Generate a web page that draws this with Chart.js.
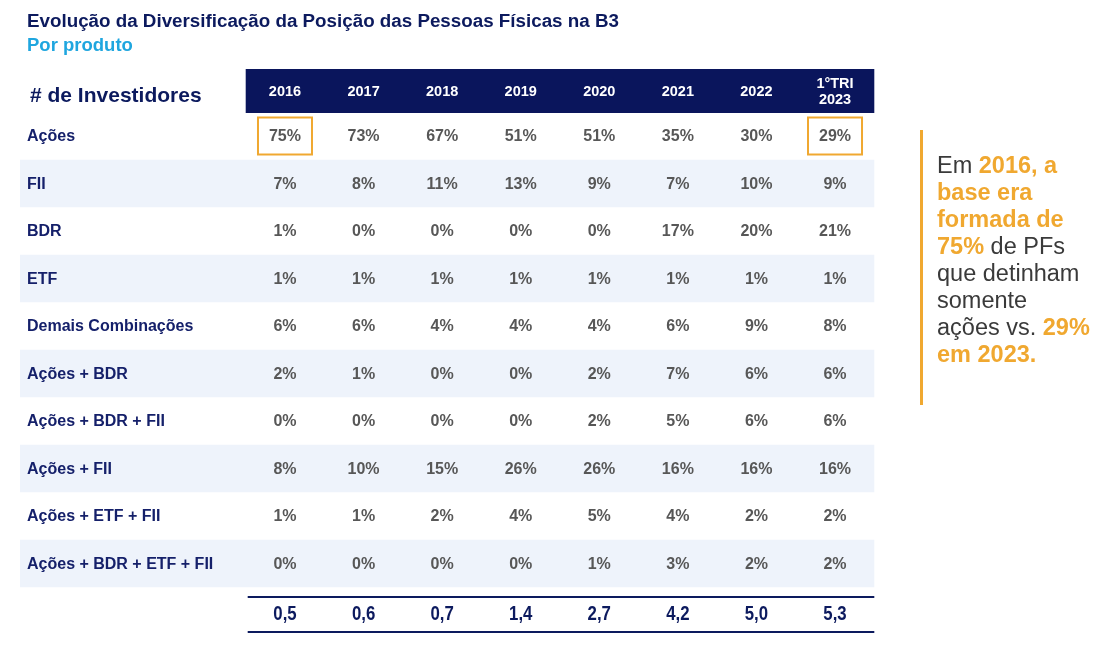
<!DOCTYPE html>
<html lang="pt-BR">
<head>
<meta charset="utf-8">
<title>Evolução da Diversificação da Posição das Pessoas Físicas na B3</title>
<script src="https://cdn.jsdelivr.net/npm/chart.js@4/dist/chart.umd.min.js"></script>
<style>
    body { margin: 0; background: #fff; font-family: 'Liberation Sans', Arial, sans-serif; }
    #wrap { position: relative; width: 1100px; height: 645px; overflow: hidden; }
    #wrap canvas { position: absolute; left: 0; top: 0; }
    .title { position: absolute; left: 27px; top: 11px; font-size: 18.8px; line-height: 19px; font-weight: bold; color: #0c1a5e; white-space: nowrap; }
    .subtitle { position: absolute; left: 27px; top: 35px; font-size: 18.5px; line-height: 19px; font-weight: bold; color: #1fa6df; white-space: nowrap; }
    .side-bar { position: absolute; left: 920px; top: 130px; width: 3px; height: 275px; background: #f0a830; }
    .side-note { position: absolute; left: 937px; top: 152px; font-size: 23.5px; line-height: 27px; color: #3a3a3a; white-space: nowrap; }
    .side-note b { color: #f0a830; }
</style>
</head>
<body>
<div id="wrap">
    <canvas id="posicaoTable"></canvas>
    <div class="title">Evolução da Diversificação da Posição das Pessoas Físicas na B3</div>
    <div class="subtitle">Por produto</div>
    <div class="side-bar"></div>
    <div class="side-note">Em <b>2016, a</b><br><b>base era</b><br><b>formada de</b><br><b>75%</b> de PFs<br>que detinham<br>somente<br>ações vs. <b>29%</b><br><b>em 2023.</b></div>
</div>
<script>
// Colunas (períodos) e linhas (produtos)
const years = ['2016', '2017', '2018', '2019', '2020', '2021', '2022', '1°TRI 2023'];
const products = ['Ações', 'FII', 'BDR', 'ETF', 'Demais Combinações', 'Ações + BDR',
    'Ações + BDR + FII', 'Ações + FII', 'Ações + ETF + FII', 'Ações + BDR + ETF + FII'];

// % de investidores por produto
const acoes = [75, 73, 67, 51, 51, 35, 30, 29];
const fii = [7, 8, 11, 13, 9, 7, 10, 9];
const bdr = [1, 0, 0, 0, 0, 17, 20, 21];
const etf = [1, 1, 1, 1, 1, 1, 1, 1];
const demais = [6, 6, 4, 4, 4, 6, 9, 8];
const acoesBdr = [2, 1, 0, 0, 2, 7, 6, 6];
const acoesBdrFii = [0, 0, 0, 0, 2, 5, 6, 6];
const acoesFii = [8, 10, 15, 26, 26, 16, 16, 16];
const acoesEtfFii = [1, 1, 2, 4, 5, 4, 2, 2];
const acoesBdrEtfFii = [0, 0, 0, 0, 1, 3, 2, 2];

// total de investidores (milhões)
const totals = [0.5, 0.6, 0.7, 1.4, 2.7, 4.2, 5.0, 5.3];

// células destacadas em laranja
const highlights = [['Ações', '2016'], ['Ações', '1°TRI 2023']];

const rowValues = [acoes, fii, bdr, etf, demais, acoesBdr, acoesBdrFii, acoesFii, acoesEtfFii, acoesBdrEtfFii];
const yLabels = ['header'].concat(products, ['total']);

const NAVY = '#0c1a5e';
const BAND = '#0a155c';
const ROW_BG = '#eef3fb';
const ORANGE = '#f0a830';

function fmtTotal(v) {
    return v.toFixed(1).replace('.', ',');
}

// Datasets: one per row, each cell is an invisible point placed by the category scales
const datasets = products.map((p, r) => ({
    label: p,
    data: rowValues[r].map((v, i) => ({ x: years[i], y: p, v: v + '%' })),
    pointRadius: 0,
    pointHoverRadius: 0
}));
datasets.push({
    label: 'total',
    data: totals.map((v, i) => ({ x: years[i], y: 'total', v: fmtTotal(v) })),
    pointRadius: 0,
    pointHoverRadius: 0
});
datasets.push({
    label: 'header',
    data: years.map(y => ({ x: y, y: 'header', v: y })),
    pointRadius: 0,
    pointHoverRadius: 0
});

const tablePlugin = {
    id: 'tablePlugin',
    beforeDatasetsDraw(chart) {
        const ctx = chart.ctx;
        const xs = chart.scales.x;
        const ys = chart.scales.y;
        const step = ys.getPixelForValue(2) - ys.getPixelForValue(1);
        ctx.save();
        // alternating light rows
        products.forEach((p, r) => {
            if (r % 2 === 1) {
                const yc = ys.getPixelForValue(r + 1);
                ctx.fillStyle = ROW_BG;
                ctx.fillRect(20, yc - step / 2, xs.right - 20, step);
            }
        });
        // header band
        const yh = ys.getPixelForValue(0);
        ctx.fillStyle = BAND;
        ctx.fillRect(xs.left, yh - 19.5, xs.right - xs.left, 44);
        ctx.restore();
    },
    afterDatasetsDraw(chart) {
        const ctx = chart.ctx;
        const xs = chart.scales.x;
        const ys = chart.scales.y;
        ctx.save();
        ctx.textBaseline = 'middle';

        // "# de Investidores"
        const yh = ys.getPixelForValue(0);
        ctx.fillStyle = NAVY;
        ctx.font = "bold 21px 'Liberation Sans', Arial, sans-serif";
        ctx.textAlign = 'left';
        ctx.fillText('# de Investidores', 30, yh + 8);

        // row labels
        ctx.font = "bold 16px 'Liberation Sans', Arial, sans-serif";
        ctx.fillStyle = '#15206a';
        products.forEach((p, r) => {
            ctx.fillText(p, 27, ys.getPixelForValue(r + 1) + 1);
        });

        ctx.textAlign = 'center';
        chart.data.datasets.forEach((ds, di) => {
            const meta = chart.getDatasetMeta(di);
            meta.data.forEach((pt, i) => {
                const txt = ds.data[i].v;
                if (ds.label === 'header') {
                    ctx.fillStyle = '#ffffff';
                    ctx.font = "bold 14.5px 'Liberation Sans', Arial, sans-serif";
                    const parts = txt.split(' ');
                    if (parts.length > 1) {
                        ctx.fillText(parts[0], pt.x, pt.y - 5);
                        ctx.fillText(parts[1], pt.x, pt.y + 11);
                    } else {
                        ctx.fillText(txt, pt.x, pt.y + 3);
                    }
                } else if (ds.label === 'total') {
                    // condensed look: squeeze the bold face horizontally
                    ctx.save();
                    ctx.fillStyle = NAVY;
                    ctx.font = "bold 20px 'Liberation Sans', Arial, sans-serif";
                    ctx.translate(pt.x, pt.y + 3);
                    ctx.scale(0.84, 1);
                    ctx.fillText(txt, 0, 0);
                    ctx.restore();
                } else {
                    ctx.fillStyle = '#575757';
                    ctx.font = "bold 16px 'Liberation Sans', Arial, sans-serif";
                    ctx.fillText(txt, pt.x, pt.y + 1);
                }
            });
        });

        // total rules
        const yt = ys.getPixelForValue(yLabels.length - 1);
        ctx.strokeStyle = NAVY;
        ctx.lineWidth = 2;
        [yt - 14, yt + 21].forEach(y => {
            ctx.beginPath();
            ctx.moveTo(xs.left + 2, y);
            ctx.lineTo(xs.right, y);
            ctx.stroke();
        });

        // highlight boxes
        ctx.strokeStyle = ORANGE;
        ctx.lineWidth = 2;
        highlights.forEach(([row, col]) => {
            const x = xs.getPixelForValue(years.indexOf(col));
            const y = ys.getPixelForValue(yLabels.indexOf(row));
            ctx.strokeRect(x - 27, y - 18.5, 54, 37);
        });
        ctx.restore();
    }
};

function renderTable() {
    const ctx = document.getElementById('posicaoTable').getContext('2d');
    new Chart(ctx, {
        type: 'scatter',
        data: { datasets: datasets },
        options: {
            responsive: false,
            animation: false,
            events: [],
            layout: {
                padding: { left: 245.7, right: 225.7, top: 64.75, bottom: 10.25 }
            },
            scales: {
                x: { type: 'category', labels: years, offset: true, display: false },
                y: { type: 'category', labels: yLabels, offset: true, display: false }
            },
            plugins: {
                legend: { display: false },
                tooltip: { enabled: false },
                title: { display: false }
            }
        },
        plugins: [tablePlugin]
    });
}

document.getElementById('posicaoTable').width = 1100;
document.getElementById('posicaoTable').height = 645;
document.addEventListener('DOMContentLoaded', renderTable);
</script>
</body>
</html>
